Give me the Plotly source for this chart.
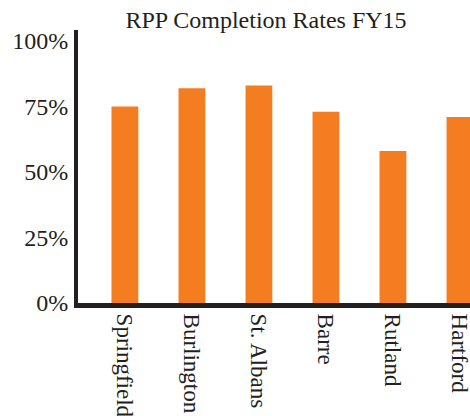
import plotly.graph_objects as go

categories = ["Springfield", "Burlington", "St. Albans", "Barre", "Rutland", "Hartford"]
rates = [75, 82, 83, 73, 58, 71]
tick_vals = [0, 25, 50, 75, 100]
tick_text = ["0%", "25%", "50%", "75%", "100%"]

FONT = "Liberation Serif, Times New Roman, serif"
INK = "#231f20"
ORANGE = "#f47d22"

W, H = 470, 416

fig = go.Figure(
    go.Bar(
        x=categories,
        y=rates,
        marker=dict(color=ORANGE, line=dict(width=0)),
        width=0.4,
    )
)

fig.update_layout(
    width=W,
    height=H,
    margin=dict(l=78, r=0, t=30, b=113),
    paper_bgcolor="white",
    plot_bgcolor="white",
    showlegend=False,
    font=dict(family=FONT, color=INK, size=24),
    title=dict(
        text="RPP Completion Rates FY15",
        x=266 / W,
        xanchor="center",
        xref="container",
        y=1 - 20 / H,
        yanchor="middle",
        yref="container",
        font=dict(family=FONT, size=24, color=INK),
    ),
)

fig.update_xaxes(
    type="category",
    range=[-0.7, 5.15],
    automargin=False,
    showline=True,
    linecolor=INK,
    linewidth=5,
    showgrid=False,
    zeroline=False,
    ticks="",
    ticklen=0,
    tickangle=90,
    ticklabelstandoff=1,
    ticklabeloverflow="allow",
    tickfont=dict(family=FONT, size=23, color=INK),
)

fig.update_yaxes(
    range=[0, 104.2],
    tickvals=tick_vals,
    ticktext=tick_text,
    automargin=False,
    showline=True,
    linecolor=INK,
    linewidth=4,
    showgrid=False,
    zeroline=False,
    ticks="",
    ticklen=0,
    ticklabelstandoff=1,
    tickfont=dict(family=FONT, size=24, color=INK),
)

fig.write_html(
    "out.html",
    config={"displayModeBar": False},
    post_script="document.body.style.margin='0';document.body.style.overflow='hidden';",
)
